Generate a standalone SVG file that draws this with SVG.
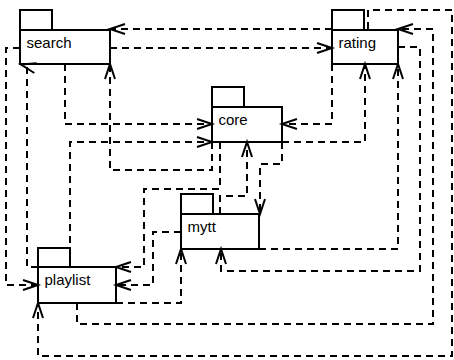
<svg xmlns="http://www.w3.org/2000/svg" width="454" height="360" viewBox="0 0 454 360">
  <style>
    .pkg { fill: #ffffff; stroke: #000000; stroke-width: 2; }
    .lbl { font-family: "Liberation Sans", Arial, sans-serif; font-size: 15px; fill: #000000; }
    .dep { fill: none; stroke: #000000; stroke-width: 2; stroke-dasharray: 7 5; marker-end: url(#open); }
  </style>
  <defs>
    <marker id="open" viewBox="-17 -7 19 14" refX="0" refY="0" markerWidth="19" markerHeight="14" markerUnits="userSpaceOnUse" orient="auto" overflow="visible">
      <path d="M-15,-5 L0,0 L-15,5" fill="none" stroke="#000000" stroke-width="2" stroke-dasharray="none"/>
    </marker>
  </defs>

  <!-- packages -->
  <g id="search">
    <rect class="pkg" x="20" y="10" width="32" height="20"/>
    <rect class="pkg" x="20" y="30" width="90" height="34"/>
    <text class="lbl" x="26.5" y="48">search</text>
  </g>
  <g id="rating">
    <rect class="pkg" x="332" y="10" width="32" height="20"/>
    <rect class="pkg" x="332" y="30" width="66" height="34"/>
    <text class="lbl" x="338.5" y="48">rating</text>
  </g>
  <g id="core">
    <rect class="pkg" x="212" y="87" width="32" height="20"/>
    <rect class="pkg" x="212" y="107" width="70" height="35"/>
    <text class="lbl" x="218.5" y="125">core</text>
  </g>
  <g id="mytt">
    <rect class="pkg" x="181" y="194" width="32" height="20"/>
    <rect class="pkg" x="181" y="214" width="78" height="35"/>
    <text class="lbl" x="187.5" y="232">mytt</text>
  </g>
  <g id="playlist">
    <rect class="pkg" x="38" y="248" width="32" height="19"/>
    <rect class="pkg" x="38" y="267" width="78" height="36"/>
    <text class="lbl" x="44.5" y="285">playlist</text>
  </g>

  <!-- dependencies -->
  <g id="connectors">
    <polyline class="dep" points="332,29 110,29"/>
    <polyline class="dep" points="110,48 332,48"/>
    <polyline class="dep" points="20,48 6,48 6,285 38,285"/>
    <polyline class="dep" points="38,267 27,267 27,66 21,64.5"/>
    <polyline class="dep" points="65,64 65,124 212,124"/>
    <polyline class="dep" points="70,267 70,142 212,142"/>
    <polyline class="dep" points="212,142 212,170 110,170 110,64"/>
    <polyline class="dep" points="220,142 220,189 144,189 144,267 116,267"/>
    <polyline class="dep" points="181,232 153,232 153,285 116,285"/>
    <polyline class="dep" points="116,303 181,303 181,249"/>
    <polyline class="dep" points="77,303 77,324 433,324 433,29 398,29"/>
    <polyline class="dep" points="368,29 368,10 452,10 452,356 38,356 38,303"/>
    <polyline class="dep" points="259,249 398,249 398,64"/>
    <polyline class="dep" points="398,47 420,47 420,271 221,271 221,249"/>
    <polyline class="dep" points="282,142 282,164 260,164 260,214"/>
    <polyline class="dep" points="220,214 220,196 247,196 247,142"/>
    <polyline class="dep" points="332,64 332,124 282,124"/>
    <polyline class="dep" points="282,142 365,142 365,64"/>
  </g>
</svg>
